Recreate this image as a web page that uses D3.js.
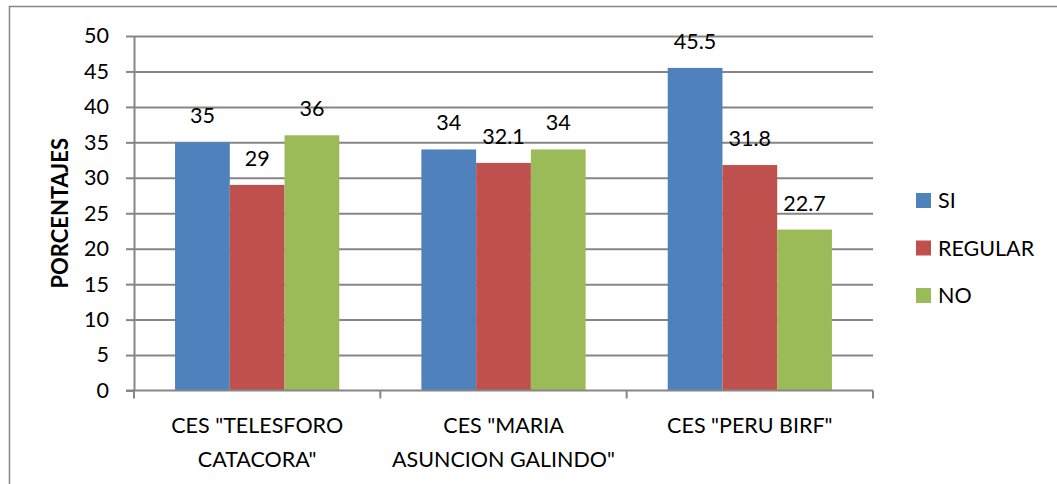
<!DOCTYPE html>
<html lang="es">
<head>
  <meta charset="UTF-8"/>
  <title>Porcentajes por CES</title>
  <style>
    *{margin:0;padding:0;box-sizing:border-box}
    body{background:#fff;font-family:Lato,"Open Sans",sans-serif}
    svg text{fill:#000}
  </style>
</head>
<body>
  <div id="chart"></div>
  <script src="https://d3js.org/d3.v7.min.js"></script>
  <script>
    // categories (each entry = lines of the axis label)
    const categories = [
      ['CES "TELESFORO', 'CATACORA"'],
      ['CES "MARIA', 'ASUNCION GALINDO"'],
      ['CES "PERU BIRF"']
    ];
    const series = ['SI', 'REGULAR', 'NO'];
    const siVals      = [35, 34, 45.5];
    const regularVals = [29, 32.1, 31.8];
    const noVals      = [36, 34, 22.7];
    const yTicks = [0, 5, 10, 15, 20, 25, 30, 35, 40, 45, 50];

    const colors = { SI:'#4f81bd', REGULAR:'#c0504d', NO:'#9bbb59' };
    const valsBySeries = { SI:siVals, REGULAR:regularVals, NO:noVals };

    const width = 1057, height = 484;
    const plot = { left:134, right:873, top:36, bottom:390.5 };
    const fs = 21.5;

    const svg = d3.select('#chart').append('svg')
      .attr('width', width).attr('height', height);

    // outer frame
    svg.append('rect')
      .attr('x', 9.5).attr('y', 6.5)
      .attr('width', width + 20).attr('height', height + 20)
      .attr('fill', 'none').attr('stroke', '#868686').attr('stroke-width', 1.5);

    const x0 = d3.scaleBand()
      .domain(d3.range(categories.length))
      .range([plot.left, plot.right]);
    const x1 = d3.scaleBand()
      .domain(series)
      .range([0, x0.bandwidth()])
      .paddingOuter(0.75);
    const y = d3.scaleLinear().domain([0, 50]).range([plot.bottom, plot.top]);

    // gridlines + y ticks
    const yAxis = svg.append('g')
      .attr('transform', `translate(${plot.left},0)`)
      .call(d3.axisLeft(y).tickValues(yTicks).tickSize(8).tickPadding(17)
        .tickSizeOuter(0));
    yAxis.select('.domain').attr('stroke', '#868686').attr('stroke-width', 2);
    yAxis.selectAll('.tick line').attr('stroke', '#868686').attr('stroke-width', 2);
    yAxis.selectAll('.tick text')
      .attr('font-size', fs).attr('font-family', 'Lato,sans-serif').attr('fill', '#000');
    yAxis.selectAll('.tick').filter(d => d > 0).append('line')
      .attr('x1', 0).attr('x2', plot.right - plot.left)
      .attr('stroke', '#868686').attr('stroke-width', 2);

    // bars
    const groups = svg.append('g').selectAll('g')
      .data(categories.map((c, i) => i))
      .join('g')
      .attr('transform', i => `translate(${x0(i)},0)`);

    groups.selectAll('rect')
      .data(i => series.map(s => ({ s, v: valsBySeries[s][i] })))
      .join('rect')
      .attr('x', d => x1(d.s))
      .attr('y', d => y(d.v))
      .attr('width', x1.bandwidth())
      .attr('height', d => y(0) - y(d.v))
      .attr('fill', d => colors[d.s]);

    groups.selectAll('text.lbl')
      .data(i => series.map(s => ({ s, v: valsBySeries[s][i] })))
      .join('text')
      .attr('class', 'lbl')
      .attr('x', d => x1(d.s) + x1.bandwidth() / 2)
      .attr('y', d => y(d.v) - 19)
      .attr('text-anchor', 'middle')
      .attr('font-size', fs)
      .text(d => d.v);

    // x axis
    const xAxis = svg.append('g');
    xAxis.append('line')
      .attr('x1', plot.left - 8).attr('x2', plot.right)
      .attr('y1', plot.bottom).attr('y2', plot.bottom)
      .attr('stroke', '#868686').attr('stroke-width', 2);
    xAxis.selectAll('line.tk')
      .data(d3.range(categories.length + 1))
      .join('line')
      .attr('class', 'tk')
      .attr('x1', i => i < categories.length ? x0(i) : plot.right)
      .attr('x2', i => i < categories.length ? x0(i) : plot.right)
      .attr('y1', plot.bottom).attr('y2', plot.bottom + 8)
      .attr('stroke', '#868686').attr('stroke-width', 2);

    xAxis.selectAll('text')
      .data(categories)
      .join('text')
      .attr('text-anchor', 'middle')
      .attr('font-size', fs)
      .attr('transform', (c, i) => `translate(${x0(i) + x0.bandwidth() / 2},433)`)
      .selectAll('tspan')
      .data(c => c)
      .join('tspan')
      .attr('x', 0)
      .attr('y', (t, j) => j * 34)
      .text(t => t);

    // y axis title
    svg.append('text')
      .attr('transform', `translate(68,${(plot.top + plot.bottom) / 2}) rotate(-90)`)
      .attr('text-anchor', 'middle')
      .attr('font-size', 22)
      .attr('font-weight', 'bold')
      .text('PORCENTAJES');

    // legend
    const legend = svg.append('g').attr('transform', 'translate(916,193)');
    const item = legend.selectAll('g')
      .data(series)
      .join('g')
      .attr('transform', (s, i) => `translate(0,${i * 47.5})`);
    item.append('rect')
      .attr('width', 15).attr('height', 15)
      .attr('fill', s => colors[s]);
    item.append('text')
      .attr('x', 22).attr('y', 15)
      .attr('font-size', fs)
      .text(s => s);
  </script>
</body>
</html>
